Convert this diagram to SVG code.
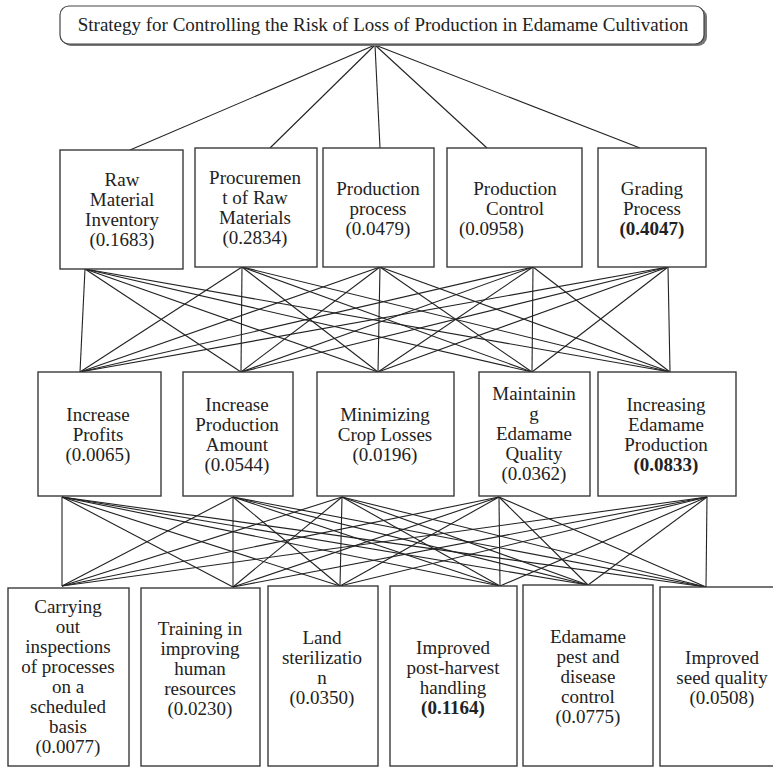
<svg xmlns="http://www.w3.org/2000/svg" width="773" height="767" viewBox="0 0 773 767">
<style>
.box{fill:#fff;stroke:#3a3a3a;stroke-width:1.4}
.t{font-family:'Liberation Serif',Tinos,'Times New Roman','DejaVu Serif',serif;font-size:19px;fill:#222;text-anchor:middle}
.b{font-weight:bold}
.s{text-anchor:start}
.c line{stroke:#222;stroke-width:1.1}
</style>
<rect width="773" height="767" fill="#fff"/>
<g class="c" id="connectors">
<line x1="375" y1="45" x2="130" y2="150"/>
<line x1="375" y1="45" x2="270" y2="148"/>
<line x1="375" y1="45" x2="380" y2="148"/>
<line x1="375" y1="45" x2="487" y2="148"/>
<line x1="375" y1="45" x2="640" y2="148"/>
<line x1="85" y1="269" x2="80" y2="372"/><line x1="85" y1="269" x2="241" y2="372"/><line x1="85" y1="269" x2="378" y2="372"/><line x1="85" y1="269" x2="532" y2="372"/><line x1="85" y1="269" x2="670" y2="372"/>
<line x1="242" y1="267" x2="80" y2="372"/><line x1="242" y1="267" x2="241" y2="372"/><line x1="242" y1="267" x2="378" y2="372"/><line x1="242" y1="267" x2="532" y2="372"/><line x1="242" y1="267" x2="670" y2="372"/>
<line x1="380" y1="267" x2="80" y2="372"/><line x1="380" y1="267" x2="241" y2="372"/><line x1="380" y1="267" x2="378" y2="372"/><line x1="380" y1="267" x2="532" y2="372"/><line x1="380" y1="267" x2="670" y2="372"/>
<line x1="533" y1="267" x2="80" y2="372"/><line x1="533" y1="267" x2="241" y2="372"/><line x1="533" y1="267" x2="378" y2="372"/><line x1="533" y1="267" x2="532" y2="372"/><line x1="533" y1="267" x2="670" y2="372"/>
<line x1="668" y1="267" x2="80" y2="372"/><line x1="668" y1="267" x2="241" y2="372"/><line x1="668" y1="267" x2="378" y2="372"/><line x1="668" y1="267" x2="532" y2="372"/><line x1="668" y1="267" x2="670" y2="372"/>
<line x1="62" y1="497" x2="62" y2="586"/><line x1="62" y1="497" x2="233" y2="587"/><line x1="62" y1="497" x2="340" y2="586"/><line x1="62" y1="497" x2="500" y2="586"/><line x1="62" y1="497" x2="588" y2="585"/><line x1="62" y1="497" x2="706" y2="587"/>
<line x1="233" y1="497" x2="62" y2="586"/><line x1="233" y1="497" x2="233" y2="587"/><line x1="233" y1="497" x2="340" y2="586"/><line x1="233" y1="497" x2="500" y2="586"/><line x1="233" y1="497" x2="588" y2="585"/><line x1="233" y1="497" x2="706" y2="587"/>
<line x1="342" y1="497" x2="62" y2="586"/><line x1="342" y1="497" x2="233" y2="587"/><line x1="342" y1="497" x2="340" y2="586"/><line x1="342" y1="497" x2="500" y2="586"/><line x1="342" y1="497" x2="588" y2="585"/><line x1="342" y1="497" x2="706" y2="587"/>
<line x1="499" y1="497" x2="62" y2="586"/><line x1="499" y1="497" x2="233" y2="587"/><line x1="499" y1="497" x2="340" y2="586"/><line x1="499" y1="497" x2="500" y2="586"/><line x1="499" y1="497" x2="588" y2="585"/><line x1="499" y1="497" x2="706" y2="587"/>
<line x1="707" y1="497" x2="62" y2="586"/><line x1="707" y1="497" x2="233" y2="587"/><line x1="707" y1="497" x2="340" y2="586"/><line x1="707" y1="497" x2="500" y2="586"/><line x1="707" y1="497" x2="588" y2="585"/><line x1="707" y1="497" x2="706" y2="587"/>
</g>
<g id="goal">
<rect x="62" y="8" width="645" height="38" rx="9" fill="#777"/>
<rect x="60" y="6" width="644" height="38" rx="9" fill="#fff" stroke="#444" stroke-width="1.2"/>
<text class="t" x="383" y="31">Strategy for Controlling the Risk of Loss of Production in Edamame Cultivation</text>
</g>
<g id="c1"><rect class="box" x="60" y="150" width="123" height="119"/>
<text class="t"><tspan x="122" y="186">Raw</tspan><tspan x="122" y="206">Material</tspan><tspan x="122" y="226">Inventory</tspan><tspan x="122" y="246">(0.1683)</tspan></text></g>
<g id="c2"><rect class="box" x="195" y="148" width="122" height="119"/>
<text class="t"><tspan x="255" y="184">Procuremen</tspan><tspan x="255" y="204">t of Raw</tspan><tspan x="255" y="224">Materials</tspan><tspan x="255" y="244">(0.2834)</tspan></text></g>
<g id="c3"><rect class="box" x="323" y="148" width="111" height="119"/>
<text class="t"><tspan x="378" y="195">Production</tspan><tspan x="378" y="215">process</tspan><tspan x="378" y="235">(0.0479)</tspan></text></g>
<g id="c4"><rect class="box" x="447" y="148" width="135" height="119"/>
<text class="t"><tspan x="515" y="195">Production</tspan><tspan x="515" y="215">Control</tspan></text>
<text class="t s" x="459" y="235">(0.0958)</text></g>
<g id="c5"><rect class="box" x="598" y="148" width="108" height="119"/>
<text class="t"><tspan x="652" y="195">Grading</tspan><tspan x="652" y="215">Process</tspan><tspan class="b" x="652" y="235">(0.4047)</tspan></text></g>
<g id="s1"><rect class="box" x="38" y="372" width="123" height="124"/>
<text class="t"><tspan x="98" y="421">Increase</tspan><tspan x="98" y="441">Profits</tspan><tspan x="98" y="461">(0.0065)</tspan></text></g>
<g id="s2"><rect class="box" x="183" y="372" width="110" height="124"/>
<text class="t"><tspan x="237" y="411">Increase</tspan><tspan x="237" y="431">Production</tspan><tspan x="237" y="451">Amount</tspan><tspan x="237" y="471">(0.0544)</tspan></text></g>
<g id="s3"><rect class="box" x="317" y="372" width="137" height="124"/>
<text class="t"><tspan x="385" y="421">Minimizing</tspan><tspan x="385" y="441">Crop Losses</tspan><tspan x="385" y="461">(0.0196)</tspan></text></g>
<g id="s4"><rect class="box" x="479" y="372" width="111" height="124"/>
<text class="t"><tspan x="534" y="400">Maintainin</tspan><tspan x="534" y="420">g</tspan><tspan x="534" y="440">Edamame</tspan><tspan x="534" y="460">Quality</tspan><tspan x="534" y="480">(0.0362)</tspan></text></g>
<g id="s5"><rect class="box" x="598" y="372" width="138" height="124"/>
<text class="t"><tspan x="666" y="411">Increasing</tspan><tspan x="666" y="431">Edamame</tspan><tspan x="666" y="451">Production</tspan><tspan class="b" x="666" y="471">(0.0833)</tspan></text></g>
<g id="a1"><rect class="box" x="8" y="588" width="121" height="178"/>
<text class="t"><tspan x="68" y="613">Carrying</tspan><tspan x="68" y="633">out</tspan><tspan x="68" y="653">inspections</tspan><tspan x="68" y="673">of processes</tspan><tspan x="68" y="693">on a</tspan><tspan x="68" y="713">scheduled</tspan><tspan x="68" y="733">basis</tspan><tspan x="68" y="753">(0.0077)</tspan></text></g>
<g id="a2"><rect class="box" x="141" y="588" width="119" height="178"/>
<text class="t"><tspan x="200" y="635">Training in</tspan><tspan x="200" y="655">improving</tspan><tspan x="200" y="675">human</tspan><tspan x="200" y="695">resources</tspan><tspan x="200" y="715">(0.0230)</tspan></text></g>
<g id="a3"><rect class="box" x="268" y="586" width="110" height="180"/>
<text class="t"><tspan x="322" y="644">Land</tspan><tspan x="322" y="664">sterilizatio</tspan><tspan x="322" y="684">n</tspan><tspan x="322" y="704">(0.0350)</tspan></text></g>
<g id="a4"><rect class="box" x="390" y="586" width="127" height="180"/>
<text class="t"><tspan x="453" y="654">Improved</tspan><tspan x="453" y="674">post-harvest</tspan><tspan x="453" y="694">handling</tspan><tspan class="b" x="453" y="714">(0.1164)</tspan></text></g>
<g id="a5"><rect class="box" x="523" y="585" width="130" height="181"/>
<text class="t"><tspan x="588" y="643">Edamame</tspan><tspan x="588" y="663">pest and</tspan><tspan x="588" y="683">disease</tspan><tspan x="588" y="703">control</tspan><tspan x="588" y="723">(0.0775)</tspan></text></g>
<g id="a6"><rect class="box" x="660" y="587" width="130" height="179"/>
<text class="t"><tspan x="722" y="664">Improved</tspan><tspan x="722" y="684">seed quality</tspan><tspan x="722" y="704">(0.0508)</tspan></text></g>
</svg>
